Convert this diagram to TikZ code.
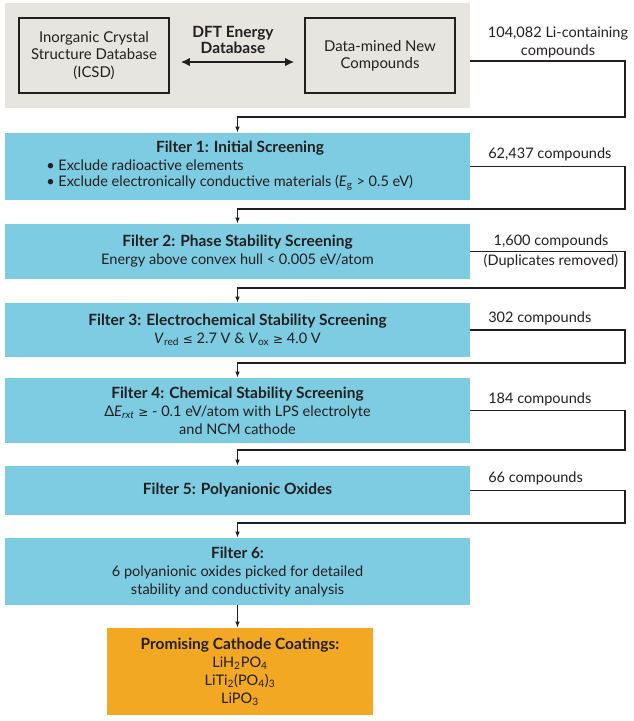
\documentclass[tikz,border=0pt]{standalone}
\usepackage{fontspec}
\setmainfont{Lato}
\newfontfamily\symfont{DejaVu Sans}
\usetikzlibrary{arrows.meta}
\usetikzlibrary{positioning}

\definecolor{dbgray}{RGB}{230,229,224}
\definecolor{filterblue}{RGB}{125,204,226}
\definecolor{coatorange}{RGB}{243,168,36}
\definecolor{inkgray}{RGB}{35,31,32}

\newcommand{\leqsym}{{\symfont\small ≤}}
\newcommand{\geqsym}{{\symfont\small ≥}}
\newcommand{\ttl}[1]{{\bfseries\fontsize{11.6}{13.5}\selectfont #1}}

\tikzset{
  txt/.style={inner sep=0.75pt, text=inkgray, font=\fontsize{10.9}{13.5}\selectfont, align=center},
  filterbox/.style={txt, fill=filterblue, minimum width=348.75pt, inner sep=0pt},
  srcbox/.style={txt, draw=inkgray, line width=0.9pt, minimum width=112.5pt, minimum height=56.25pt, inner sep=0pt, font=\fontsize{11.2}{12.9}\selectfont},
  link/.style={draw=inkgray, line width=0.9pt, -{Latex[length=4.5pt,width=3.4pt]}},
  dblink/.style={draw=inkgray, line width=1.6pt, {Latex[length=7pt,width=6.5pt]}-{Latex[length=7pt,width=6.5pt]}},
  count/.style={txt, anchor=west}
}

\begin{document}
\begin{tikzpicture}[x=0.75pt,y=0.75pt,yscale=-1,xscale=1]
\useasboundingbox (0,0) rectangle (633,721);

%Shape: Rectangle (database background)
\node[fill=dbgray, minimum width=348.75pt, minimum height=78.75pt, inner sep=0pt] (db) at (237.5,55.5) {};
%Shape: Rectangle
\node[srcbox] (icsd) at (94,55.5) {Inorganic Crystal\\Structure Database\\(ICSD)};
%Shape: Rectangle
\node[srcbox] (mined) at (380,55.5) {Data-mined New\\Compounds};
% Text Node
\node[txt, font=\bfseries\fontsize{11.6}{12.6}\selectfont] (dft) at (233,40) {DFT Energy\\Database};
%Straight Lines
\draw[dblink] ([xshift=8.25pt,yshift=4.9pt]icsd.east) -- ([xshift=-7.5pt,yshift=4.9pt]mined.west);

%Shape: Rectangle (filters)
\node[filterbox, minimum height=50.25pt] (f1) at (237.5,166.5) {};
\node[filterbox, minimum height=41.25pt] (f2) at (237.5,251.5) {\ttl{Filter 2: Phase Stability Screening}\\Energy above convex hull < 0.005 eV/atom};
\node[filterbox, minimum height=40.5pt] (f3) at (237.5,330) {\ttl{Filter 3: Electrochemical Stability Screening}\\\textit{V}\textsubscript{red} \leqsym{} 2.7 V \& \textit{V}\textsubscript{ox} \geqsym{} 4.0 V};
\node[filterbox, minimum height=48.75pt] (f4) at (237.5,410.5) {\ttl{Filter 4: Chemical Stability Screening}\\Δ\textit{E}\textsubscript{\textit{rxt}} \geqsym{} - 0.1 eV/atom with LPS electrolyte\\and NCM cathode};
\node[filterbox, minimum height=36.75pt] (f5) at (237.5,490.5) {\ttl{Filter 5: Polyanionic Oxides}};
\node[filterbox, minimum height=50.25pt] (f6) at (237.5,571.5) {\ttl{Filter 6:}\\6 polyanionic oxides picked for detailed\\stability and conductivity analysis};
%Shape: Rectangle (result)
\node[txt, fill=coatorange, minimum width=199.5pt, minimum height=65.25pt, inner sep=0pt] (coat) at (240,671.5) {\ttl{Promising Cathode Coatings:}\\LiH\textsubscript{2}PO\textsubscript{4}\\LiTi\textsubscript{2}(PO\textsubscript{4})\textsubscript{3}\\LiPO\textsubscript{3}};

% Text Node
\node[txt, font=\bfseries\fontsize{11.6}{13.5}\selectfont] (f1title) at (240,148) {Filter 1: Initial Screening};
% Text Node
\node[txt, anchor=west, align=left, font=\fontsize{10.9}{12}\selectfont] (f1list) at (45,175) {\textbullet{} Exclude radioactive elements\\\textbullet{} Exclude electronically conductive materials (\textit{E}\textsubscript{g} > 0.5 eV)};

% Text Node (counts)
\node[txt] (c0) at (558,42) {104,082 Li-containing\\compounds};
\node[count] (c1) at (487,154) {62,437 compounds};
\node[txt] (c2) at (551,251.5) {1,600 compounds\\[2pt](Duplicates removed)};
\node[count] (c3) at (487,318) {302 compounds};
\node[count] (c4) at (487,399) {184 compounds};
\node[count] (c5) at (487,478) {66 compounds};

% corners of the connectors
\coordinate (k1) at (625,117);
\coordinate (k2) at (625,209);
\coordinate (k3) at (625,288);
\coordinate (k4) at (625,363);
\coordinate (k5) at (625,450);
\coordinate (k6) at (625,523);

%Straight Lines
\draw[link] ([yshift=4.1pt]db.east) -| (k1) -| (f1.north);
\draw[link] (f1.east) -| (k2) -| (f2.north);
\draw[link] (f2.east) -| (k3) -| (f3.north);
\draw[link] (f3.east) -| (k4) -| (f4.north);
\draw[link] (f4.east) -| (k5) -| (f5.north);
\draw[link] (f5.east) -| (k6) -| (f6.north);
\draw[link] (f6.south) -- (f6.south |- coat.north);

\end{tikzpicture}
\end{document}
